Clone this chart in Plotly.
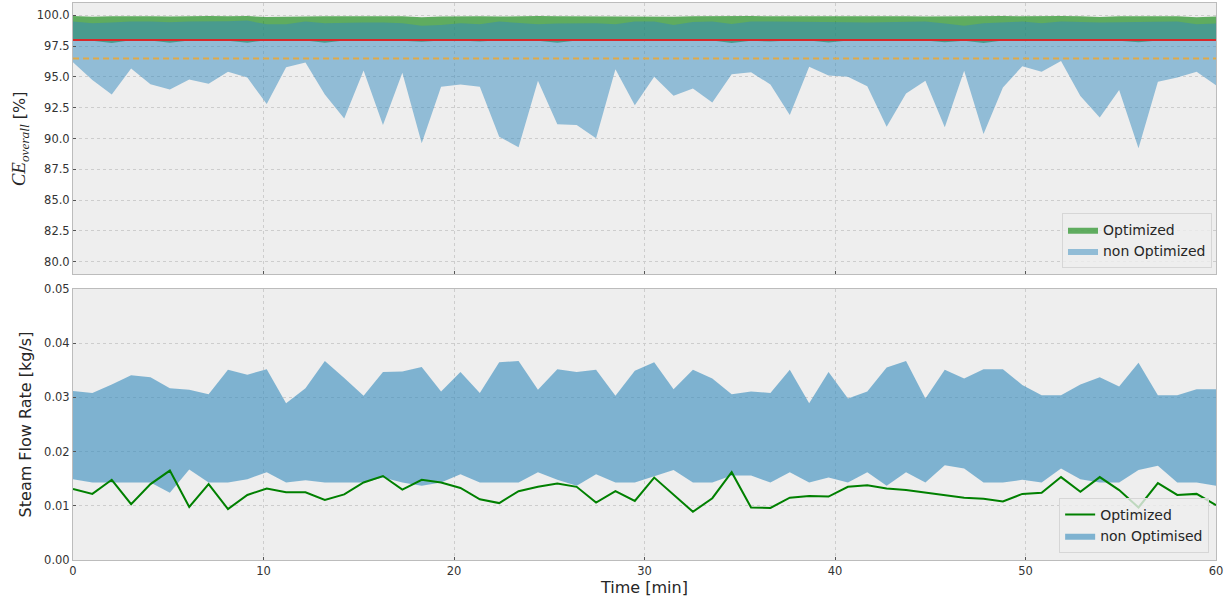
import numpy as np
import plotly.graph_objects as go

# ---------------- data ----------------
time_min = np.linspace(0, 60, 60)

ce_opt_low = [97.96, 97.94, 97.76, 97.97, 97.95, 97.77, 97.96, 97.95, 97.93, 97.78,
              97.97, 97.95, 97.96, 97.77, 97.95, 97.97, 97.96, 97.94, 97.86, 97.95,
              97.96, 97.87, 97.97, 97.95, 97.93, 97.77, 97.95, 97.96, 97.94, 97.97,
              97.96, 97.95, 97.93, 97.96, 97.76, 97.94, 97.87, 97.95, 97.96, 97.79,
              97.95, 97.96, 97.94, 97.97, 97.95, 97.81, 97.94, 97.76, 97.95, 97.97,
              97.96, 97.94, 97.95, 97.96, 97.93, 97.81, 97.95, 97.96, 97.94, 97.95]
ce_opt_high = [99.94, 99.88, 99.92, 99.95, 99.93, 99.90, 99.94, 99.95, 99.93, 99.94,
               99.86, 99.90, 99.94, 99.93, 99.92, 99.95, 99.93, 99.92, 99.85, 99.90,
               99.94, 99.93, 99.90, 99.94, 99.95, 99.93, 99.92, 99.94, 99.93, 99.95,
               99.94, 99.88, 99.93, 99.95, 99.92, 99.94, 99.93, 99.95, 99.94, 99.93,
               99.92, 99.94, 99.95, 99.93, 99.90, 99.92, 99.93, 99.95, 99.94, 99.93,
               99.95, 99.94, 99.93, 99.86, 99.93, 99.94, 99.95, 99.93, 99.85, 99.90]
ce_nonopt_low = [96.19, 94.74, 93.58, 95.68, 94.41, 93.98, 94.79, 94.44, 95.41, 94.95,
                 92.79, 95.79, 96.17, 93.58, 91.63, 95.52, 91.09, 95.33, 89.61, 94.20,
                 94.39, 94.20, 90.15, 89.29, 94.68, 91.15, 91.09, 90.01, 95.63, 92.69,
                 95.01, 93.47, 94.06, 92.93, 95.22, 95.38, 94.39, 91.90, 95.82, 95.11,
                 95.01, 94.25, 90.96, 93.66, 94.68, 90.91, 95.49, 90.36, 94.14, 95.87,
                 95.41, 96.30, 93.44, 91.71, 93.93, 89.20, 94.60, 94.96, 95.41, 94.33]
ce_nonopt_high = [99.49, 99.35, 99.41, 99.49, 99.49, 99.43, 99.49, 99.49, 99.51, 99.57,
                  99.27, 99.27, 99.49, 99.35, 99.41, 99.41, 99.41, 99.35, 99.16, 99.22,
                  99.35, 99.27, 99.49, 99.38, 99.27, 99.33, 99.35, 99.35, 99.27, 99.49,
                  99.49, 99.22, 99.46, 99.49, 99.30, 99.49, 99.49, 99.49, 99.49, 99.49,
                  99.43, 99.41, 99.43, 99.49, 99.49, 99.33, 99.16, 99.35, 99.43, 99.49,
                  99.35, 99.49, 99.46, 99.41, 99.43, 99.43, 99.46, 99.49, 99.27, 99.33]
ce_target = 98.0
ce_limit = 96.5

steam_opt = [0.0131, 0.0122, 0.0148, 0.0103, 0.0140, 0.0165, 0.0098, 0.0140, 0.0094, 0.0120,
             0.0132, 0.0125, 0.0125, 0.0111, 0.0121, 0.0143, 0.0155, 0.0130, 0.0148, 0.0143,
             0.0133, 0.0112, 0.0105, 0.0127, 0.0135, 0.0141, 0.0135, 0.0106, 0.0127, 0.0109,
             0.0152, 0.0121, 0.0089, 0.0114, 0.0162, 0.0097, 0.0096, 0.0115, 0.0118, 0.0117,
             0.0135, 0.0138, 0.0132, 0.0129, 0.0124, 0.0119, 0.0115, 0.0113, 0.0108, 0.0122,
             0.0124, 0.0153, 0.0126, 0.0153, 0.0129, 0.0097, 0.0142, 0.0120, 0.0122, 0.0101]
steam_nonopt_low = [0.0149, 0.0143, 0.0143, 0.0143, 0.0143, 0.0124, 0.0167, 0.0143, 0.0143, 0.0149,
                    0.0162, 0.0143, 0.0147, 0.0143, 0.0143, 0.0143, 0.0152, 0.0143, 0.0137, 0.0143,
                    0.0158, 0.0143, 0.0143, 0.0143, 0.0162, 0.0148, 0.0137, 0.0158, 0.0143, 0.0143,
                    0.0154, 0.0166, 0.0143, 0.0143, 0.0156, 0.0156, 0.0143, 0.0162, 0.0143, 0.0152,
                    0.0143, 0.0162, 0.0137, 0.0162, 0.0143, 0.0175, 0.0169, 0.0143, 0.0143, 0.0148,
                    0.0143, 0.0169, 0.0149, 0.0143, 0.0143, 0.0166, 0.0174, 0.0143, 0.0143, 0.0137]
steam_nonopt_high = [0.0312, 0.0308, 0.0324, 0.0341, 0.0337, 0.0317, 0.0314, 0.0306, 0.0351, 0.0342,
                     0.0352, 0.0289, 0.0317, 0.0367, 0.0336, 0.0303, 0.0347, 0.0348, 0.0356, 0.0311,
                     0.0347, 0.0308, 0.0365, 0.0367, 0.0314, 0.0352, 0.0347, 0.0351, 0.0303, 0.0349,
                     0.0365, 0.0315, 0.0351, 0.0335, 0.0306, 0.0311, 0.0308, 0.0351, 0.0289, 0.0347,
                     0.0298, 0.0311, 0.0355, 0.0367, 0.0298, 0.0351, 0.0335, 0.0352, 0.0352, 0.0323,
                     0.0304, 0.0304, 0.0324, 0.0337, 0.0320, 0.0364, 0.0304, 0.0304, 0.0315, 0.0315]

x_ticks = [0, 10, 20, 30, 40, 50, 60]
ce_ticks = [80.0, 82.5, 85.0, 87.5, 90.0, 92.5, 95.0, 97.5, 100.0]
steam_ticks = [0.00, 0.01, 0.02, 0.03, 0.04, 0.05]


def band(x, lo, hi):
    x = list(x)
    return x + x[::-1], list(hi) + list(lo)[::-1]


GREEN_FILL = "rgba(0,128,0,0.6)"
BLUE_TOP = "rgba(52,138,189,0.5)"
BLUE_BOT = "rgba(52,138,189,0.6)"

fig = go.Figure()

bx, by = band(time_min, ce_opt_low, ce_opt_high)
fig.add_trace(go.Scatter(x=bx, y=by, fill="toself", fillcolor=GREEN_FILL, mode="lines",
                         line=dict(width=0), name="Optimized", legend="legend",
                         xaxis="x", yaxis="y", hoverinfo="skip"))
bx, by = band(time_min, ce_nonopt_low, ce_nonopt_high)
fig.add_trace(go.Scatter(x=bx, y=by, fill="toself", fillcolor=BLUE_TOP, mode="lines",
                         line=dict(width=0), name="non Optimized", legend="legend",
                         xaxis="x", yaxis="y", hoverinfo="skip"))

bx, by = band(time_min, steam_nonopt_low, steam_nonopt_high)
fig.add_trace(go.Scatter(x=bx, y=by, fill="toself", fillcolor=BLUE_BOT, mode="lines",
                         line=dict(width=0), name="non Optimised", legend="legend2",
                         legendrank=2, xaxis="x2", yaxis="y2", hoverinfo="skip"))
fig.add_trace(go.Scatter(x=time_min, y=steam_opt, mode="lines",
                         line=dict(color="#008000", width=2), name="Optimized",
                         legend="legend2", legendrank=1, xaxis="x2", yaxis="y2"))

# reference lines
fig.add_shape(type="line", xref="x domain", yref="y", x0=0, x1=1, y0=ce_target, y1=ce_target,
              line=dict(color="#d8292b", width=2))
fig.add_shape(type="line", xref="x domain", yref="y", x0=0, x1=1, y0=ce_limit, y1=ce_limit,
              line=dict(color="#dfa94a", width=2, dash="6px,4px"))

# top y-axis label (math-style), placed like the reference
fig.add_annotation(
    text='<span style="font-family:Liberation Serif;font-size:19px"><i>CE</i>'
         '<sub><i>overall</i></sub></span> [%]',
    xref="paper", yref="paper", x=-0.0464, y=0.757, xanchor="center", yanchor="middle",
    textangle=-90, showarrow=False, font=dict(size=16, color="#262626", family="DejaVu Sans"))

tick_font = dict(family="DejaVu Sans", size=11.5, color="#333333")
common = dict(showgrid=True, gridcolor="#cdcdcd", griddash="dot", gridwidth=1,
              showline=True, mirror=True, linecolor="#bcbcbc", linewidth=1,
              zeroline=False, ticks="inside", ticklen=3, tickcolor="#555555",
              tickfont=tick_font, automargin=False)

TOP_DOM = [0.5135, 1.0]
BOT_DOM = [0.0, 0.4865]

fig.update_layout(
    width=1227, height=601,
    margin=dict(l=73, r=11, t=3, b=41, autoexpand=False),
    paper_bgcolor="white", plot_bgcolor="#eeeeee",
    font=dict(family="DejaVu Sans", color="#262626"),
    xaxis=dict(domain=[0, 1], range=[0, 60], tickvals=x_ticks, showticklabels=False,
               anchor="y", **common),
    yaxis=dict(domain=TOP_DOM, range=[79, 101], tickvals=ce_ticks, tickformat=".1f",
               anchor="x", **common),
    xaxis2=dict(domain=[0, 1], range=[0, 60], tickvals=x_ticks, anchor="y2",
                title=dict(text="Time [min]", font=dict(size=16, color="#262626"), standoff=4),
                **common),
    yaxis2=dict(domain=BOT_DOM, range=[0, 0.05], tickvals=steam_ticks, tickformat=".2f",
                anchor="x2",
                title=dict(text="Steam Flow Rate [kg/s]", font=dict(size=16, color="#262626"),
                           standoff=8),
                **common),
    legend=dict(x=0.9965, y=0.524, xanchor="right", yanchor="bottom",
                bgcolor="rgba(238,238,238,0.8)", bordercolor="#d6d6d6", borderwidth=1,
                font=dict(size=14, family="DejaVu Sans", color="#262626"),
                tracegroupgap=0, itemwidth=30),
    legend2=dict(x=0.994, y=0.0126, xanchor="right", yanchor="bottom",
                 bgcolor="rgba(238,238,238,0.8)", bordercolor="#d6d6d6", borderwidth=1,
                 font=dict(size=14, family="DejaVu Sans", color="#262626"),
                 tracegroupgap=0, itemwidth=30),
    showlegend=True,
)

fig.write_html("out.html", config={"displayModeBar": False},
               post_script="document.body.style.margin='0';document.body.style.padding='0';")
